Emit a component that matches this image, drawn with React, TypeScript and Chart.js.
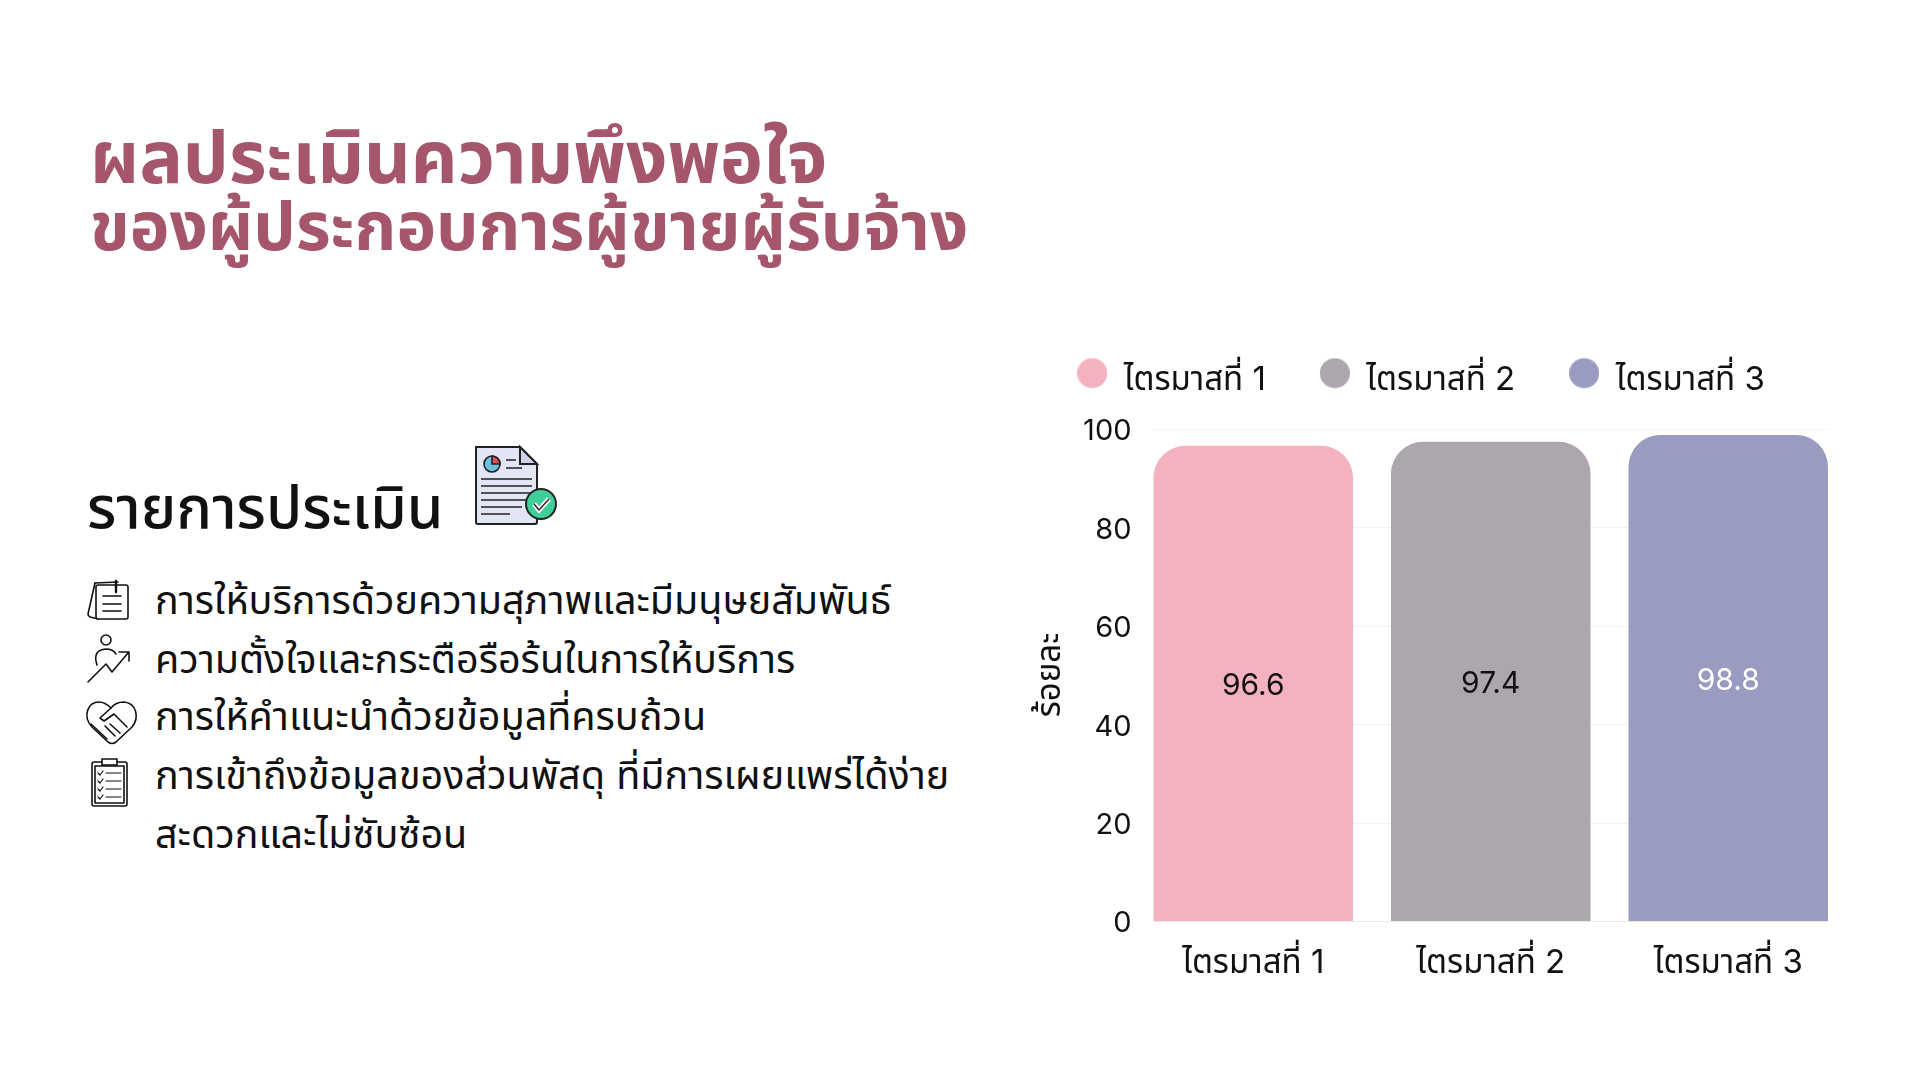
import React, { useEffect, useRef } from "react";
import { Chart, registerables } from "chart.js";

Chart.register(...registerables);

const categories = ["ไตรมาสที่ 1", "ไตรมาสที่ 2", "ไตรมาสที่ 3"];
const values = [96.6, 97.4, 98.8];
const barColors = ["#f4b2c0", "#aea6af", "#9a9bc0"];
const labelColors = ["#111111", "#111111", "#ffffff"];
const yTicks = [0, 20, 40, 60, 80, 100];
const titleLines = ["ผลประเมินความพึงพอใจ", "ของผู้ประกอบการผู้ขายผู้รับจ้าง"];
const sectionTitle = "รายการประเมิน";
const items = [
  "การให้บริการด้วยความสุภาพและมีมนุษยสัมพันธ์",
  "ความตั้งใจและกระตือรือร้นในการให้บริการ",
  "การให้คำแนะนำด้วยข้อมูลที่ครบถ้วน",
  "การเข้าถึงข้อมูลของส่วนพัสดุ ที่มีการเผยแพร่ได้ง่าย",
  "สะดวกและไม่ซับซ้อน",
];
const itemTops = [572, 631, 688, 747, 806];
const FONT = 'Inter, "Noto Sans Thai", "Noto Sans", "DejaVu Sans", sans-serif';

const valueLabels = {
  id: "valueLabels",
  afterDatasetsDraw(chart: any) {
    const { ctx } = chart;
    chart.getDatasetMeta(0).data.forEach((bar: any, i: number) => {
      ctx.save();
      ctx.font = `400 30px ${FONT}`;
      ctx.fillStyle = labelColors[i];
      ctx.textAlign = "center";
      ctx.textBaseline = "middle";
      ctx.fillText(String(values[i]), bar.x, (bar.y + bar.base) / 2 + 3);
      ctx.restore();
    });
  },
};

// Grid lines and the base line run from the first bar's edge to the last bar's edge.
const barSpanGrid = {
  id: "barSpanGrid",
  beforeDatasetsDraw(chart: any) {
    const { ctx } = chart;
    const bars = chart.getDatasetMeta(0).data;
    const left = bars[0].x - bars[0].width / 2;
    const right = bars[bars.length - 1].x + bars[bars.length - 1].width / 2;
    ctx.save();
    ctx.lineWidth = 1;
    yTicks.forEach((v) => {
      const y = Math.round(chart.scales.y.getPixelForValue(v)) + 0.5;
      ctx.strokeStyle = v === 0 ? "#e8e8ee" : "#f3f3f3";
      ctx.beginPath();
      ctx.moveTo(left, y);
      ctx.lineTo(right, y);
      ctx.stroke();
    });
    ctx.restore();
  },
};

// The legend keeps its wide item gaps but takes less height above the plot.
const legendHeight = {
  id: "legendHeight",
  beforeLayout(chart: any) {
    const legend = chart.legend;
    if (legend && !legend.__patched) {
      const fit = legend.fit;
      legend.fit = function () {
        fit.call(this);
        this.height = 119;
      };
      legend.__patched = true;
    }
  },
};

// Legend marker: a 30px disc sitting a little above the centre line of its label.
function legendDisc(color: string) {
  const c = document.createElement("canvas");
  c.width = 30;
  c.height = 46;
  const g = c.getContext("2d")!;
  g.fillStyle = color;
  g.beginPath();
  g.arc(15, 15.7, 15, 0, Math.PI * 2);
  g.fill();
  return c;
}

const Abs = ({ x, y, size, weight = 400, color = "#111", children, lh }: any) => (
  <div style={{ position: "absolute", left: x, top: y, fontSize: size, fontWeight: weight, color, lineHeight: lh ? lh + "px" : "normal", whiteSpace: "nowrap", fontFamily: FONT }}>
    {children}
  </div>
);

const stroke = { fill: "none", stroke: "#111", strokeWidth: 1.6, strokeLinecap: "round", strokeLinejoin: "round" } as any;

const Icons = () => (
  <svg width={1920} height={1080} style={{ position: "absolute", left: 0, top: 0 }}>
    <g>
      <path d="M476 447 H520 L537 464 V522 Q537 524 535 524 H478 Q476 524 476 522 Z" fill="#e2e5f3" stroke="#222" strokeWidth="2" />
      <path d="M520 447 V464 H537 Z" fill="#d0d4e8" stroke="#222" strokeWidth="2" />
      <circle cx="492" cy="464" r="8" fill="#6fc0de" stroke="#222" strokeWidth="1.6" />
      <path d="M492 464 V456 A8 8 0 0 1 500 464 Z" fill="#de4f55" stroke="#222" strokeWidth="1.6" />
      <path d="M506 460 H516 M506 468 H522 M481 479 H532 M481 486 H532 M481 493 H532 M481 500 H528 M481 507 H522 M481 514 H510" stroke="#222" strokeWidth="1.6" />
      <circle cx="541" cy="504" r="15" fill="#3fd09a" stroke="#222" strokeWidth="2" />
      <path d="M534 504 L539 510 L549 499" fill="none" stroke="#fff" strokeWidth="5" />
      <path d="M534 504 L539 510 L549 499" fill="none" stroke="#222" strokeWidth="1.4" />
    </g>
    <g {...stroke}>
      <path d="M95 583 L88 614 Q88 616 90 617 L98 619" />
      <path d="M95 583 L118 582" />
      <rect x="96" y="585" width="32" height="34" rx="2" fill="#fff" />
      <path d="M103 596 H121 M103 604 H121 M103 611 H121" />
      <path d="M116 581 V592" strokeWidth="2.4" />
    </g>
    <g {...stroke}>
      <circle cx="106" cy="640" r="5" />
      <path d="M97 665 Q92 650 106 649 Q113 649 116 654" />
      <path d="M88 682 L106 664 L112 672 L128 653 M119 652 H129 V661" />
    </g>
    <g {...stroke}>
      <path d="M108 742 L92 727 C82 716 88 702 99 702 C105 702 109 706 111 708 C114 704 119 702 124 702 C136 703 140 717 132 727 L116 742 Q112 745 108 742 Z" />
      <path d="M111 708 L100 718 L104 721 L114 714 L127 727 M91 724 L107 739 M105 726 L115 736 M110 724 L120 733" />
    </g>
    <g {...stroke}>
      <rect x="92" y="762" width="35" height="44" rx="2" />
      <rect x="95" y="766" width="29" height="37" />
      <rect x="102" y="759" width="15" height="6" fill="#fff" />
      <path d="M98 773 L100 775 L103 771 M106 773 H121 M98 781 L100 783 L103 779 M106 781 H121 M98 789 L100 791 L103 787 M106 789 H121 M98 797 L100 799 L103 795 M106 797 H121" strokeWidth="1.2" />
    </g>
  </svg>
);

export default function App() {
  const ref = useRef<HTMLCanvasElement>(null);
  useEffect(() => {
    document.body.style.margin = "0";
    const discs = barColors.map(legendDisc);
    const chart = new Chart(ref.current!, {
      type: "bar",
      data: {
        labels: categories,
        datasets: [{
          data: values,
          backgroundColor: barColors,
          borderRadius: { topLeft: 32, topRight: 32, bottomLeft: 0, bottomRight: 0 },
          borderSkipped: false,
          barPercentage: 0.84,
          categoryPercentage: 1,
        }],
      },
      plugins: [legendHeight, barSpanGrid, valueLabels],
      options: {
        animation: false,
        responsive: false,
        layout: { padding: { left: 0, right: 8, top: 0, bottom: 0 } },
        plugins: {
          tooltip: { enabled: false },
          legend: {
            display: true,
            position: "top",
            labels: {
              usePointStyle: true,
              boxWidth: 30,
              boxHeight: 21,
              font: { family: FONT, size: 33 },
              color: "#111",
              padding: 54,
              generateLabels: () =>
                categories.map((c, i) => ({
                  text: c,
                  fillStyle: barColors[i],
                  strokeStyle: barColors[i],
                  fontColor: "#111",
                  lineWidth: 0,
                  pointStyle: discs[i],
                  index: i,
                })),
            },
          },
        },
        scales: {
          x: {
            grid: { display: false, drawTicks: false },
            border: { display: false },
            afterFit: (s: any) => { s.height = 60; },
            ticks: { color: "#111", font: { family: FONT, size: 33 }, padding: 22, maxRotation: 0 },
          },
          y: {
            min: 0,
            max: 100,
            afterFit: (s: any) => { s.width = 139.5; },
            afterBuildTicks: (s: any) => { s.ticks = yTicks.map((v) => ({ value: v })); },
            grid: { display: false, drawTicks: false },
            border: { display: false },
            title: { display: true, text: "ร้อยละ", color: "#111", font: { family: FONT, size: 33 }, padding: { top: 35, bottom: 0 } },
            ticks: {
              color: "#111",
              font: { family: FONT, size: 29, lineHeight: 0.19 },
              padding: 3,
              // an empty first line nudges each label just below its grid line
              callback: (v: any) => ["", String(v)],
            },
          },
        },
      },
    } as any);
    return () => chart.destroy();
  }, []);
  return (
    <div style={{ position: "relative", width: 1920, height: 1080, background: "#fff", overflow: "hidden" }}>
      <Abs x={90} y={123} size={72.5} weight={700} color="#a5566a" lh={68}>{titleLines[0]}</Abs>
      <Abs x={90} y={192} size={67} weight={700} color="#a5566a" lh={68}>{titleLines[1]}</Abs>
      <Abs x={87} y={474} size={59} weight={500} lh={66}>{sectionTitle}</Abs>
      {items.map((t, i) => (
        <Abs key={i} x={155} y={itemTops[i]} size={39.5} weight={400} lh={56}>{t}</Abs>
      ))}
      <Icons />
      <canvas ref={ref} width={860} height={671} style={{ position: "absolute", left: 995, top: 310, display: "block" }} />
    </div>
  );
}
